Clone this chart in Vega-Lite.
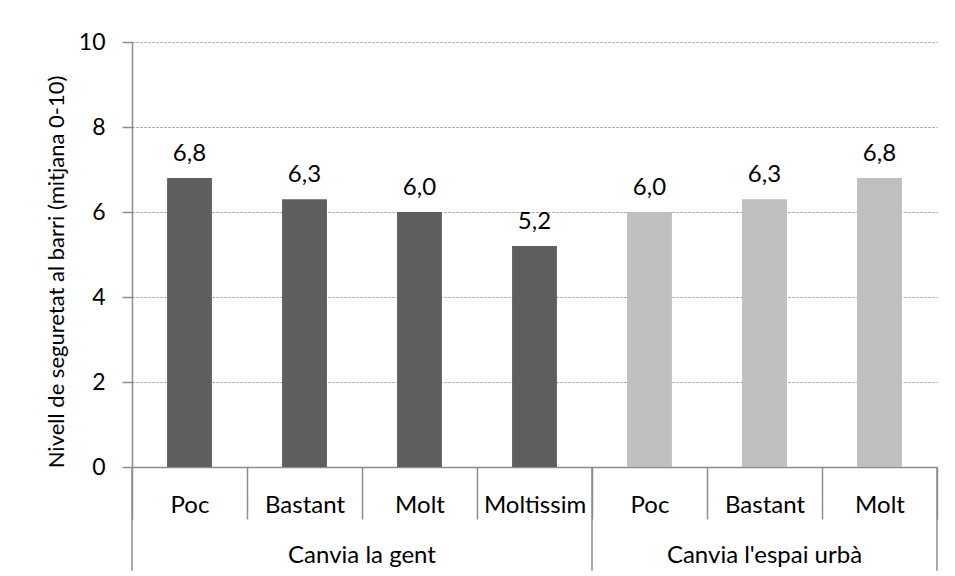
{
  "$schema": "https://vega.github.io/schema/vega-lite/v6.json",
  "width": 805,
  "height": 425,
  "autosize": {"type": "none"},
  "padding": {"left": 132, "top": 42, "right": 18, "bottom": 109},
  "background": "white",
  "config": {
    "view": {"stroke": null},
    "font": "Lato",
    "locale": {"number": {"decimal": ",", "thousands": ".", "grouping": [3], "currency": ["", " €"]}}
  },
  "datasets": {
    "barres": [
      {"id": "Canvia la gent|Poc", "grup": "Canvia la gent", "valor": 6.8},
      {"id": "Canvia la gent|Bastant", "grup": "Canvia la gent", "valor": 6.3},
      {"id": "Canvia la gent|Molt", "grup": "Canvia la gent", "valor": 6.0},
      {"id": "Canvia la gent|Moltissim", "grup": "Canvia la gent", "valor": 5.2},
      {"id": "Canvia l'espai urbà|Poc", "grup": "Canvia l'espai urbà", "valor": 6.0},
      {"id": "Canvia l'espai urbà|Bastant", "grup": "Canvia l'espai urbà", "valor": 6.3},
      {"id": "Canvia l'espai urbà|Molt", "grup": "Canvia l'espai urbà", "valor": 6.8}
    ],
    "grups": [
      {"grup": "Canvia la gent", "inici": "Canvia la gent|Poc", "centre": "Canvia la gent|Bastant", "fi": "Canvia la gent|Moltissim"},
      {"grup": "Canvia l'espai urbà", "inici": "Canvia l'espai urbà|Poc", "centre": "Canvia l'espai urbà|Bastant", "fi": "Canvia l'espai urbà|Molt"}
    ]
  },
  "layer": [
    {
      "data": {"name": "barres"},
      "mark": {"type": "bar", "width": {"band": 0.39}},
      "encoding": {
        "x": {
          "field": "id", "type": "nominal", "sort": null,
          "scale": {
            "domain": ["Canvia la gent|Poc", "Canvia la gent|Bastant", "Canvia la gent|Molt", "Canvia la gent|Moltissim", "Canvia l'espai urbà|Poc", "Canvia l'espai urbà|Bastant", "Canvia l'espai urbà|Molt"],
            "paddingInner": 0, "paddingOuter": 0
          },
          "axis": {
            "title": null,
            "labelExpr": "split(datum.label, '|')[1]",
            "labelAngle": 0,
            "labelFont": "Lato", "labelFontSize": 24, "labelColor": "#000000",
            "labelBaseline": "alphabetic", "labelPadding": -7,
            "tickBand": "extent", "tickSize": 52, "tickColor": "#8c8c8c", "tickWidth": 1.5,
            "domainColor": "#8c8c8c", "domainWidth": 1.5,
            "grid": false
          }
        },
        "y": {
          "field": "valor", "type": "quantitative",
          "scale": {"domain": [0, 10], "nice": false, "zero": true},
          "axis": {
            "title": "Nivell de seguretat al barri (mitjana 0-10)",
            "values": [0, 2, 4, 6, 8, 10],
            "format": "d",
            "labelFont": "Lato", "labelFontSize": 23, "labelColor": "#000000", "labelPadding": 17,
            "tickSize": 10, "tickColor": "#8c8c8c", "tickWidth": 1.5,
            "domainColor": "#8c8c8c", "domainWidth": 1.5,
            "grid": true, "gridColor": "#8c8c8c", "gridDash": [2, 2], "gridWidth": 1.2,
            "titleFont": "Lato", "titleFontSize": 22, "titleFontWeight": "normal", "titleColor": "#000000",
            "titleX": -69, "titleY": 229.5, "titleAngle": -90, "titleAlign": "center", "titleBaseline": "alphabetic"
          }
        },
        "color": {
          "field": "grup", "type": "nominal",
          "scale": {"domain": ["Canvia la gent", "Canvia l'espai urbà"], "range": ["#5f5f5f", "#bfbfbf"]},
          "legend": null
        }
      }
    },
    {
      "data": {"name": "barres"},
      "mark": {"type": "text", "baseline": "alphabetic", "dy": -17, "font": "Lato", "fontSize": 24, "color": "#000000"},
      "encoding": {
        "x": {"field": "id", "type": "nominal", "sort": null},
        "y": {"field": "valor", "type": "quantitative"},
        "text": {"field": "valor", "type": "quantitative", "format": ".1f"}
      }
    },
    {
      "data": {"name": "grups"},
      "mark": {"type": "rule", "color": "#8c8c8c", "strokeWidth": 1.5},
      "encoding": {
        "x": {"field": "inici", "type": "nominal", "sort": null, "bandPosition": 0},
        "y": {"datum": 0},
        "y2": {"datum": -2.44}
      }
    },
    {
      "data": {"name": "grups"},
      "transform": [{"filter": "datum.grup == \"Canvia l'espai urbà\""}],
      "mark": {"type": "rule", "color": "#8c8c8c", "strokeWidth": 1.5},
      "encoding": {
        "x": {"field": "fi", "type": "nominal", "sort": null, "bandPosition": 1},
        "y": {"datum": 0},
        "y2": {"datum": -2.44}
      }
    },
    {
      "data": {"name": "grups"},
      "transform": [{"filter": "datum.grup == 'Canvia la gent'"}],
      "mark": {"type": "text", "baseline": "alphabetic", "align": "center", "font": "Lato", "fontSize": 24, "color": "#000000"},
      "encoding": {
        "x": {"field": "centre", "type": "nominal", "sort": null, "bandPosition": 1},
        "y": {"datum": -2.26},
        "text": {"field": "grup"}
      }
    },
    {
      "data": {"name": "grups"},
      "transform": [{"filter": "datum.grup == \"Canvia l'espai urbà\""}],
      "mark": {"type": "text", "baseline": "alphabetic", "align": "center", "font": "Lato", "fontSize": 24, "color": "#000000"},
      "encoding": {
        "x": {"field": "centre", "type": "nominal", "sort": null, "bandPosition": 0.5},
        "y": {"datum": -2.26},
        "text": {"field": "grup"}
      }
    }
  ]
}
